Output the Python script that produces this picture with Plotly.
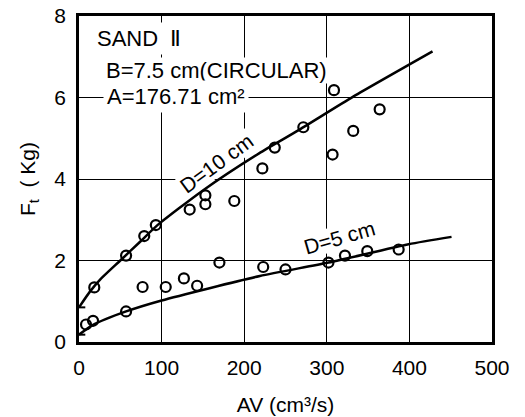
import plotly.graph_objects as go

# D = 10 cm observations
d10_x = [18.5, 57, 79, 93, 134, 153, 153, 188, 222, 237, 271.6, 307, 308.7, 332, 364]
d10_y = [1.34, 2.12, 2.6, 2.87, 3.25, 3.6, 3.38, 3.46, 4.26, 4.77, 5.27, 4.6, 6.18, 5.18, 5.71]
# D = 5 cm observations
d5_x = [8.5, 17, 57, 77, 105, 127, 143, 170, 223, 250, 302, 322, 349, 387]
d5_y = [0.43, 0.52, 0.75, 1.35, 1.35, 1.56, 1.38, 1.95, 1.84, 1.78, 1.95, 2.12, 2.23, 2.27]

# fitted curves
fit10_x = [0, 13, 25, 50, 74, 94, 150, 218, 266, 332, 428]
fit10_y = [0.85, 1.23, 1.52, 2.0, 2.46, 2.85, 3.72, 4.63, 5.2, 6.02, 7.13]
fit5_x = [0, 17, 57, 100, 219, 302, 399, 451]
fit5_y = [0.18, 0.42, 0.75, 1.02, 1.62, 1.95, 2.4, 2.58]

x_ticks = [0, 100, 200, 300, 400, 500]
y_ticks = [0, 2, 4, 6, 8]

FONT = "Liberation Sans, Arial, sans-serif"

fig = go.Figure()
for fx, fy in [(fit10_x, fit10_y), (fit5_x, fit5_y)]:
    fig.add_trace(go.Scatter(x=fx, y=fy, mode="lines",
                             line=dict(color="black", width=2.5, shape="spline", smoothing=0.6),
                             showlegend=False))
fig.add_trace(go.Scatter(x=[fit10_x[0], fit5_x[0]], y=[fit10_y[0], fit5_y[0]], mode="markers",
                         marker=dict(symbol="line-ew-open", size=9, color="black",
                                     line=dict(color="black", width=2)),
                         showlegend=False))
for sx, sy in [(d10_x, d10_y), (d5_x, d5_y)]:
    fig.add_trace(go.Scatter(x=sx, y=sy, mode="markers",
                             marker=dict(symbol="circle-open", size=10, color="black",
                                         line=dict(color="black", width=2.2)),
                             showlegend=False))

fig.update_layout(
    width=525, height=417,
    margin=dict(l=79, r=33, t=16, b=75),
    plot_bgcolor="white", paper_bgcolor="white",
    font=dict(family=FONT, size=21, color="black"),
    xaxis=dict(range=[0, 500], tickvals=x_ticks, showgrid=True, gridcolor="black", gridwidth=1,
               showline=True, linecolor="black", linewidth=2.5, mirror=True, ticks="",
               zeroline=False, ticklabelstandoff=5, automargin=False,
               tickfont=dict(size=21, color="black"),
               title=dict(text="AV (cm³/s)", font=dict(size=21, color="black"), standoff=20)),
    yaxis=dict(range=[0, 8], tickvals=y_ticks, showgrid=True, gridcolor="black", gridwidth=1,
               showline=True, linecolor="black", linewidth=2.5, mirror=True, ticks="",
               zeroline=False, ticklabelstandoff=6, automargin=False,
               tickfont=dict(size=21, color="black"),
               title=dict(text="F<sub>t</sub>  ( Kg)", font=dict(size=21, color="black"), standoff=14)),
)

ann = [
    dict(text="SAND  Ⅱ", x=0.034, y=0.931, xanchor="left", borderpad=3),
    dict(text="B=7.5 cm(CIRCULAR)", x=0.063, y=0.834, xanchor="left", borderpad=0),
    dict(text="A=176.71 cm²", x=0.058, y=0.752, xanchor="left", borderpad=3),
]
for a in ann:
    fig.add_annotation(xref="paper", yref="paper", yanchor="middle", showarrow=False,
                       bgcolor="white", font=dict(size=22, family=FONT, color="black"), **a)

fig.add_annotation(x=166, y=4.39, xref="x", yref="y", text="D=10 cm", showarrow=False,
                   textangle=-36, font=dict(size=21, family=FONT, color="black"),
                   bgcolor="white", borderpad=0)
fig.add_annotation(x=315, y=2.56, xref="x", yref="y", text="D=5 cm", showarrow=False,
                   textangle=-16, font=dict(size=21, family=FONT, color="black"),
                   bgcolor="white", borderpad=0)

fig.write_html("out.html", config={"displayModeBar": False},
               post_script="document.body.style.margin='0';")
